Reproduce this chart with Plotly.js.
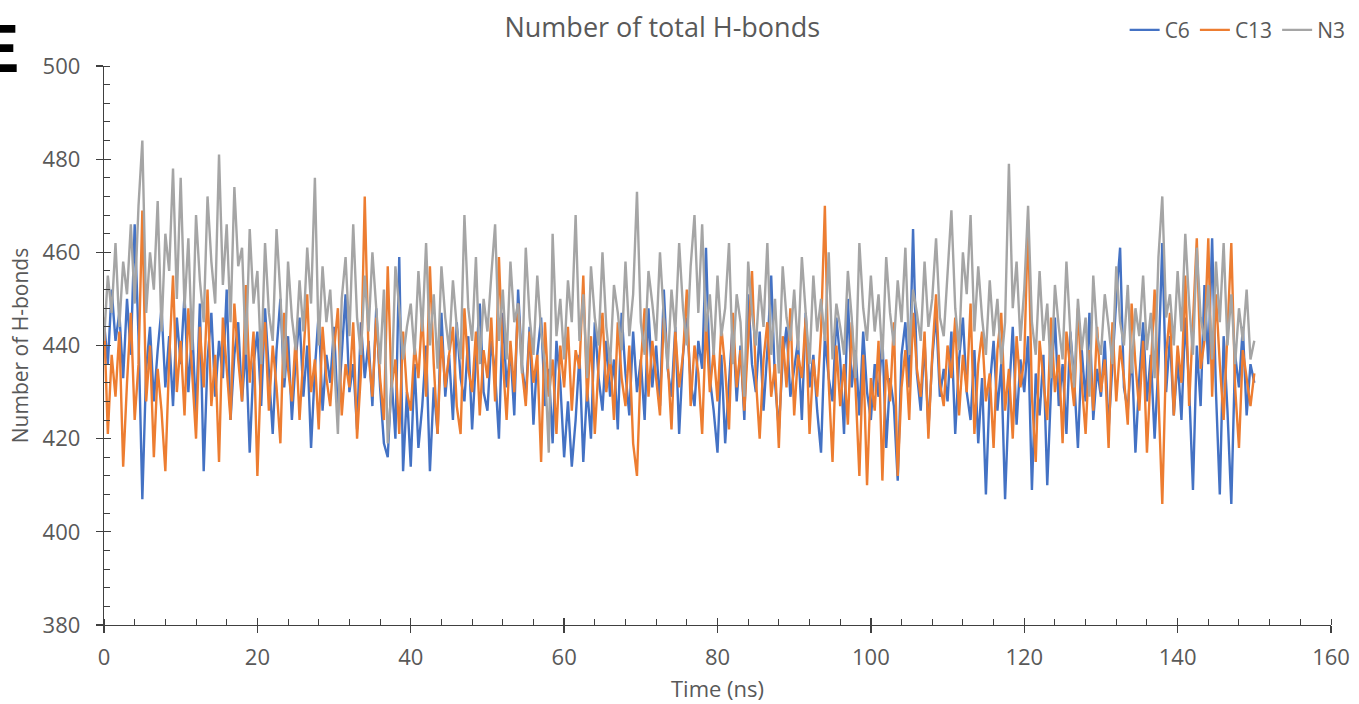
<!DOCTYPE html>
<html>
<head>
<meta charset="utf-8">
<script src="https://cdn.plot.ly/plotly-3.0.1.min.js"></script>
<style>html,body{margin:0;padding:0;background:#fff;}#chart{width:1359px;height:704px;}</style>
</head>
<body>
<div id="chart"></div>
<script>
// Time sampling (ns) and series values
const timeStep = 0.5;
const seriesNames = ["C6", "C13", "N3"];
const seriesColors = ["#4472C4", "#ED7D31", "#A5A5A5"];

const c6 = [
 445,436,452,441,447,433,450,438,466,442,407,435,444,428,439,448,431,442,427,446,
 436,451,430,444,425,449,413,437,447,429,441,433,452,424,438,445,428,440,417,436,
 443,427,448,434,421,439,450,431,442,424,437,446,429,440,418,435,447,426,438,432,
 444,425,439,451,430,436,422,445,433,441,427,448,431,419,416,433,420,459,413,430,
 414,436,418,427,440,413,431,421,447,429,438,424,445,433,428,442,422,437,449,430,
 426,441,434,420,447,431,439,425,452,436,429,444,423,438,446,427,435,419,441,432,
 416,428,414,424,438,415,431,420,445,433,426,441,429,437,422,447,434,425,443,430,
 437,424,448,431,440,427,452,435,429,444,421,438,446,432,427,441,435,461,433,426,
 417,438,419,433,445,428,440,424,451,436,430,443,426,439,455,432,422,437,444,429,
 435,441,424,447,431,438,426,417,442,433,428,446,437,421,450,431,439,425,443,430,
 424,436,429,442,418,433,427,411,438,445,431,465,434,426,441,422,437,447,429,435,
 428,443,421,437,446,430,424,439,419,433,408,431,441,426,436,407,429,444,423,437,
 430,442,409,434,425,438,410,431,446,427,436,421,443,433,418,439,428,447,424,435,
 429,441,422,437,450,461,431,426,439,417,433,445,428,438,420,436,462,430,442,425,
 437,424,446,431,409,440,427,453,436,463,430,408,442,426,406,438,431,444,425,436,
 432
];

const c13 = [
 446,421,438,429,443,414,432,447,424,436,469,428,440,416,435,426,413,437,455,430,
 441,425,448,433,420,444,431,452,427,438,415,446,434,424,449,437,428,453,432,443,
 412,436,445,426,440,431,419,447,435,428,442,424,438,451,430,437,422,444,433,427,
 439,448,425,436,431,445,420,434,472,438,429,446,433,424,457,431,437,421,443,430,
 426,440,433,447,429,457,436,421,442,431,438,444,427,421,448,435,430,443,425,439,
 433,446,428,459,437,424,441,430,449,435,427,443,432,438,415,445,429,437,421,440,
 431,444,426,439,435,455,428,442,421,436,447,430,438,424,445,433,427,440,419,412,
 436,448,429,441,433,425,446,437,422,443,431,438,452,427,440,434,421,445,430,439,
 428,444,435,422,447,431,439,426,441,456,433,420,437,445,429,436,418,442,431,448,
 425,438,433,446,421,437,429,443,470,432,415,440,427,436,423,445,431,412,438,410,
 433,426,441,411,437,428,445,412,431,439,424,447,435,429,443,420,438,451,432,427,
 440,433,446,425,438,430,449,421,436,443,428,434,418,439,447,426,435,420,442,431,
 437,467,429,415,441,433,424,446,430,438,419,443,435,427,448,432,421,439,426,444,
 430,437,418,445,428,440,433,423,449,436,426,441,417,434,452,429,406,438,447,425,
 440,432,455,427,446,463,435,441,463,429,451,436,424,445,462,431,418,439,433,427,
 434
];

const n3 = [
 441,455,447,462,444,458,451,466,449,470,484,447,460,452,471,443,464,456,478,450,
 476,448,463,439,468,454,445,472,458,449,481,453,466,445,474,457,461,438,465,449,
 456,436,462,447,441,465,451,433,458,446,439,454,443,461,449,476,440,457,445,452,
 437,421,450,459,442,466,446,438,455,443,460,447,436,452,419,431,457,448,437,444,
 449,438,456,443,462,440,451,435,457,446,439,454,444,437,468,448,441,459,436,450,
 443,455,466,441,452,437,458,445,449,434,461,446,438,455,443,436,417,464,442,450,
 437,454,445,468,441,451,433,457,446,440,460,444,436,453,447,439,458,442,451,473,
 445,438,456,449,441,460,446,435,452,443,462,448,440,457,468,447,466,443,451,438,
 455,442,448,462,436,451,445,429,458,447,440,453,444,462,438,450,434,457,446,441,
 452,439,459,447,436,455,443,450,441,460,437,449,444,438,456,446,433,462,448,441,
 455,443,451,437,459,447,440,454,445,461,438,452,447,441,458,444,450,463,446,442,
 455,469,448,439,460,451,468,443,457,446,438,454,442,450,436,445,479,448,458,441,
 452,470,445,438,456,441,449,433,453,444,437,458,443,431,450,439,446,429,455,442,
 438,451,444,436,457,445,440,453,434,448,442,455,439,447,433,459,472,446,451,440,
 456,443,464,449,438,461,446,441,453,437,458,445,462,440,451,436,448,441,452,437,
 441
];

const xTickVals = [0, 20, 40, 60, 80, 100, 120, 140, 160];
const yTickVals = [380, 400, 420, 440, 460, 480, 500];

const seriesValues = [c6, c13, n3];
const traces = seriesValues.map((vals, k) => ({
  type: "scatter",
  mode: "lines",
  name: seriesNames[k],
  x: vals.map((_, i) => i * timeStep),
  y: vals,
  line: { color: seriesColors[k], width: 2.4 },
  xaxis: "x",
  yaxis: "y"
}));

const font = "Open Sans, Noto Sans, sans-serif";
const txtColor = "#595959";
const axColor = "#404040";

// helper invisible trace to instantiate overlay axes for the inner half of cross ticks
traces.push({ type: "scatter", x: [0], y: [380], mode: "markers", marker: { opacity: 0 }, showlegend: false, hoverinfo: "skip", xaxis: "x2", yaxis: "y2" });

const layout = {
  width: 1359, height: 704,
  paper_bgcolor: "#ffffff", plot_bgcolor: "#ffffff",
  margin: { l: 104, r: 28, t: 66, b: 79 },
  font: { family: font, color: txtColor, size: 22 },
  title: {
    text: "Number of total H-bonds",
    font: { family: font, size: 27, color: txtColor },
    xref: "paper", x: 0.455, xanchor: "center",
    yref: "container", y: 0.961, yanchor: "middle"
  },
  showlegend: true,
  legend: {
    orientation: "h",
    xref: "paper", x: 1.016, xanchor: "right",
    yref: "container", y: 0.957, yanchor: "middle",
    font: { family: font, size: 21, color: txtColor },
    itemwidth: 30,
    traceorder: "normal",
    bgcolor: "rgba(0,0,0,0)"
  },
  xaxis: {
    range: [0, 160],
    tickvals: xTickVals,
    ticks: "outside", ticklen: 7, tickwidth: 1.3, tickcolor: axColor,
    ticklabelstandoff: 5,
    minor: { dtick: 4, ticks: "inside", ticklen: 6, tickwidth: 1, tickcolor: axColor, showgrid: false },
    showline: true, linecolor: axColor, linewidth: 1.3,
    showgrid: false, zeroline: false,
    tickfont: { family: font, size: 22, color: txtColor },
    title: { text: "Time (ns)", font: { family: font, size: 22, color: txtColor }, standoff: 12 }
  },
  yaxis: {
    range: [380, 500],
    tickvals: yTickVals,
    ticks: "outside", ticklen: 7, tickwidth: 1.3, tickcolor: axColor,
    ticklabelstandoff: 11,
    minor: { dtick: 4, ticks: "inside", ticklen: 6, tickwidth: 1, tickcolor: axColor, showgrid: false },
    showline: true, linecolor: axColor, linewidth: 1.3,
    showgrid: false, zeroline: false,
    tickfont: { family: font, size: 22, color: txtColor },
    title: { text: "Number of H-bonds", font: { family: font, size: 21, color: txtColor }, standoff: 8 }
  },
  xaxis2: {
    overlaying: "x", anchor: "y2", range: [0, 160], tickvals: xTickVals,
    ticks: "inside", ticklen: 7, tickwidth: 1.3, tickcolor: axColor,
    showticklabels: false, showline: false, showgrid: false, zeroline: false, side: "bottom"
  },
  yaxis2: {
    overlaying: "y", anchor: "x2", range: [380, 500], tickvals: yTickVals,
    ticks: "inside", ticklen: 7, tickwidth: 1.3, tickcolor: axColor,
    showticklabels: false, showline: false, showgrid: false, zeroline: false, side: "left"
  },
  annotations: [{
    text: "<b>E</b>", xref: "paper", yref: "paper",
    x: -0.068, y: 1.032, xanchor: "right", yanchor: "middle",
    showarrow: false, font: { family: "Liberation Sans, Arial, sans-serif", size: 68, color: "#000000" }
  }]
};

Plotly.newPlot("chart", traces, layout, { displayModeBar: false, staticPlot: true });
</script>
</body>
</html>
